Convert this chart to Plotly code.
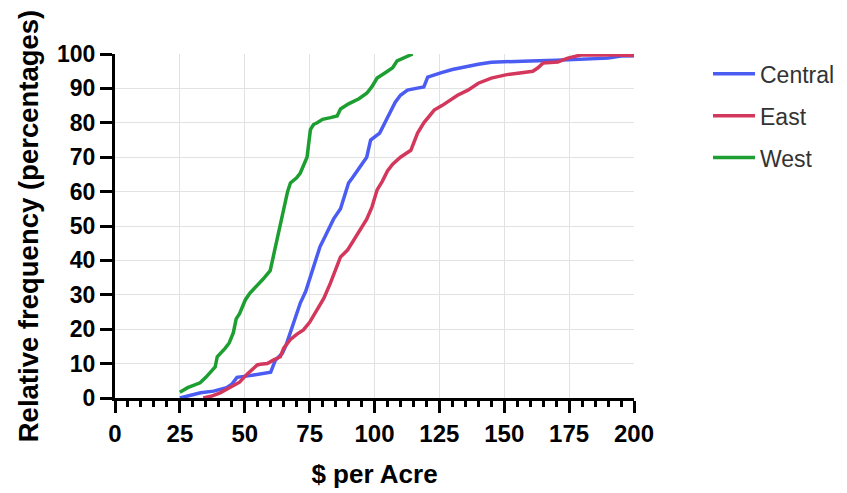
import plotly.graph_objects as go

# ---- data ----
west_x = [25, 28, 32.8, 35, 38.6, 39.4, 42.5, 44, 45.6, 46.7, 48, 50.2, 52, 54, 57, 59.8, 61, 62.5, 63.7,
          65.6, 66.5, 67.6, 70, 71.4, 73, 74, 75.3, 76.5, 77.9, 80, 83, 85.6, 86.9, 90, 94, 97, 99, 101,
          104, 107, 108.7, 111, 114.7]
west_y = [1.7, 3, 4.4, 6, 9, 12, 14.5, 16, 19, 23, 24.5, 28.5, 30.5, 32, 34.5, 37, 41, 46, 51,
          57, 60, 62.5, 64, 65.4, 68, 70, 78, 79.5, 80, 81, 81.5, 82, 84, 85.5, 87, 88.6, 90.5, 93,
          94.5, 96, 98, 98.8, 100]

central_x = [25, 29, 33, 38, 43, 45, 47, 52, 57, 60, 61.8, 64.5, 66, 67.6, 69.5, 71.4, 73.5, 75.3, 77,
             79, 81, 83, 84.2, 86.9, 88.5, 90, 91.5, 93.4, 95, 97, 98.5, 100, 102, 104, 106, 108, 110,
             112.7, 116, 119, 120.5, 123, 125.5, 130, 134, 140, 145, 152, 160, 170, 180, 190, 195, 200]
central_y = [0, 0.8, 1.5, 2, 3, 4, 6, 6.5, 7, 7.5, 11, 13, 15.5, 19, 23, 27.6, 31, 35, 39.5,
             44, 47, 50, 52, 55, 59, 62.5, 64, 66, 68, 70, 75, 76, 77, 80, 83, 86, 88,
             89.5, 90, 90.4, 93.3, 94, 94.5, 95.5, 96.2, 97, 97.6, 97.9, 98, 98.2, 98.5, 98.8, 99.4, 99.5]

east_x = [34, 37, 40.5, 44, 48, 51, 54.8, 56, 58.7, 61, 63.7, 65, 67.6, 70, 72.6, 75, 78, 80.5, 83, 85,
          86.9, 89.6, 92, 94.6, 97, 99, 101, 103, 105, 107, 110, 114, 116.6, 119, 123, 126, 129, 132,
          136, 140, 145, 151, 156, 161, 163, 165, 170.6, 174.5, 179.5, 190, 200]
east_y = [0, 0.5, 1.5, 3, 4.6, 7, 9.6, 9.8, 10, 11, 12, 14.5, 17, 18.5, 19.8, 22, 25.6, 29, 33.4, 37,
          41, 43, 46, 49, 52, 55.5, 60.5, 63, 66, 68, 70, 72, 77, 80, 83.7, 85, 86.6, 88,
          89.5, 91.5, 93, 94, 94.5, 95, 96, 97.4, 97.7, 98.8, 99.7, 99.8, 99.6]

series_names = ["Central", "East", "West"]
x_tick_vals = [0, 25, 50, 75, 100, 125, 150, 175, 200]
y_tick_vals = [0, 10, 20, 30, 40, 50, 60, 70, 80, 90, 100]

colors = {"Central": "#4a5cf2", "East": "#d3375b", "West": "#1c9f30"}
series = {"Central": (central_x, central_y), "East": (east_x, east_y), "West": (west_x, west_y)}

FONT = "Liberation Sans, Arial, sans-serif"

fig = go.Figure()
for name in series_names:
    xs, ys = series[name]
    fig.add_trace(go.Scatter(x=xs, y=ys, mode="lines", name=name, legendgroup=name,
                             line=dict(color=colors[name], width=3.5)))

fig.update_layout(
    width=847, height=493,
    margin=dict(l=115, r=213, t=54, b=95, autoexpand=False),
    paper_bgcolor="white", plot_bgcolor="white",
    font=dict(family=FONT, color="black"),
    showlegend=True,
    legend=dict(x=1.1426, y=1.005, xanchor="left", yanchor="top",
                font=dict(size=23, color="#333333", family=FONT),
                itemwidth=42,
                traceorder="grouped", tracegroupgap=9, bgcolor="rgba(0,0,0,0)"),
    xaxis=dict(range=[0, 200], tickvals=x_tick_vals, ticktext=["<b>%d</b>" % v for v in x_tick_vals],
               showline=True, linecolor="black", linewidth=3, automargin=False,
               ticks="outside", ticklen=12, tickwidth=3, tickcolor="black",
               tickfont=dict(size=24, family=FONT, color="black"),
               showgrid=True, gridcolor="#e2e2e2", gridwidth=1.2, zeroline=False,
               minor=dict(dtick=5, ticks="outside", ticklen=6, tickwidth=2.5, tickcolor="black", showgrid=False),
               title=dict(text="<b>$ per Acre</b>", font=dict(size=26, family=FONT), standoff=20)),
    yaxis=dict(range=[0, 100], tickvals=y_tick_vals, ticktext=["<b>%d</b>" % v for v in y_tick_vals],
               showline=True, linecolor="black", linewidth=3, automargin=False,
               ticks="outside", ticklen=12, tickwidth=3, tickcolor="black",
               tickfont=dict(size=23, family=FONT, color="black"),
               showgrid=True, gridcolor="#e2e2e2", gridwidth=1.2, zeroline=False,
               title=dict(text="<b>Relative frequency (percentages)</b>", font=dict(size=27.5, family=FONT), standoff=11)),
)

fig.write_html("out.html", config={"displayModeBar": False},
               post_script="document.body.style.margin='0';")
